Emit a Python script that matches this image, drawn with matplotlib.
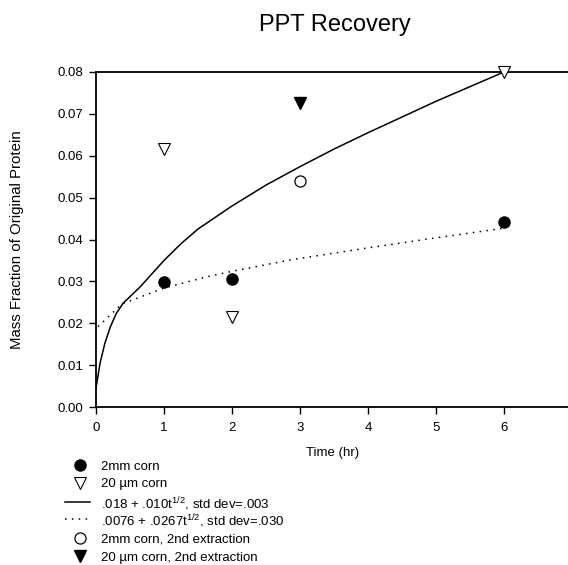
import matplotlib
matplotlib.use("Agg")
import matplotlib.pyplot as plt
from matplotlib.lines import Line2D

plt.rcParams["font.family"] = ["Liberation Sans", "DejaVu Sans"]
plt.rcParams["mathtext.fontset"] = "custom"
plt.rcParams["mathtext.rm"] = "Liberation Sans"
plt.rcParams["mathtext.default"] = "regular"

# measured points
t_2mm = [1, 2, 6]
y_2mm = [0.0298, 0.0306, 0.0442]
t_20um = [1, 2, 6]
y_20um = [0.0615, 0.0215, 0.0800]
t_2mm_2nd = [3]
y_2mm_2nd = [0.0540]
t_20um_2nd = [3]
y_20um_2nd = [0.0727]

# fitted curves
t_solid = [0.0, 0.06, 0.13, 0.21, 0.30, 0.40, 0.65, 1.0, 1.25, 1.5, 2.0, 2.5,
           3.0, 3.5, 4.0, 5.0, 6.0]
y_solid = [0.0045, 0.0105, 0.0152, 0.0191, 0.0224, 0.0248, 0.0287, 0.0350,
           0.0390, 0.0425, 0.0480, 0.0530, 0.0574, 0.0616, 0.0655, 0.0730, 0.0800]
t_dot = [0.03, 0.38, 1.0, 1.63, 2.0, 2.85, 4.0, 5.0, 6.0]
y_dot = [0.0192, 0.0246, 0.0284, 0.0311, 0.0324, 0.0351, 0.0380, 0.0404, 0.0427]

legend_labels = [
    "2mm corn",
    "20 \u00b5m corn",
    ".018 + .010t$^{1/2}$, std dev=.003",
    ".0076 + .0267t$^{1/2}$, std dev=.030",
    "2mm corn, 2nd extraction",
    "20 \u00b5m corn, 2nd extraction",
]

W, H = 568, 565
fig = plt.figure(figsize=(W / 100, H / 100), dpi=100)
ax = fig.add_axes([96 / W, 1 - 407 / H, 476 / W, 335 / H])

dotted = (0, (1, 3.5))
styles = [
    dict(marker="o", color="black", ms=8, ls="none"),
    dict(marker="v", mfc="white", mec="black", mew=0.8, ms=8.5, ls="none"),
    dict(color="black", lw=1.1),
    dict(color="black", lw=1.1, linestyle=dotted),
    dict(marker="o", mfc="white", mec="black", mew=0.9, ms=8, ls="none"),
    dict(marker="v", color="black", ms=8.5, ls="none"),
]

ax.plot(t_solid, y_solid, **styles[2])
ax.plot(t_dot, y_dot, **styles[3])
ax.plot(t_2mm, y_2mm, clip_on=False, zorder=5, **styles[0])
ax.plot(t_20um, y_20um, clip_on=False, zorder=5, **styles[1])
ax.plot(t_2mm_2nd, y_2mm_2nd, clip_on=False, zorder=5, **styles[4])
ax.plot(t_20um_2nd, y_20um_2nd, clip_on=False, zorder=5, **styles[5])

ax.set_xlim(0, 7)
ax.set_ylim(0, 0.08)
ax.set_xticks([0, 1, 2, 3, 4, 5, 6])
ax.set_yticks([0, 0.01, 0.02, 0.03, 0.04, 0.05, 0.06, 0.07, 0.08])
ax.set_yticklabels([f"{v:.2f}" for v in ax.get_yticks()])
ax.spines["right"].set_visible(False)
for s in ["top", "left", "bottom"]:
    ax.spines[s].set_linewidth(1.3)
ax.tick_params(direction="out", length=5, width=1, labelsize=9.5)
ax.tick_params(axis="x", pad=6)
ax.tick_params(axis="y", pad=4)

fig.text(335 / W, 1 - 25 / H, "PPT Recovery", ha="center", va="center", fontsize=17)
fig.text(333 / W, 1 - 453 / H, "Time (hr)", ha="center", va="center", fontsize=9.5)
fig.text(17 / W, 1 - 240 / H, "Mass Fraction of Original Protein",
         rotation=90, ha="center", va="center", fontsize=10.8)

# legend drawn row by row under the axes
row_y = [465, 483, 502, 519, 538, 556]
for st, lab, yy in zip(styles, legend_labels, row_y):
    yf = 1 - yy / H
    if "marker" in st:
        fig.add_artist(Line2D([80 / W], [yf], transform=fig.transFigure, **st))
    else:
        fig.add_artist(Line2D([65 / W, 90 / W], [yf, yf], transform=fig.transFigure, **st))
    fig.text(101 / W, yf, lab, ha="left", va="center_baseline", fontsize=9.5)

fig.savefig("out.png", dpi=100)
